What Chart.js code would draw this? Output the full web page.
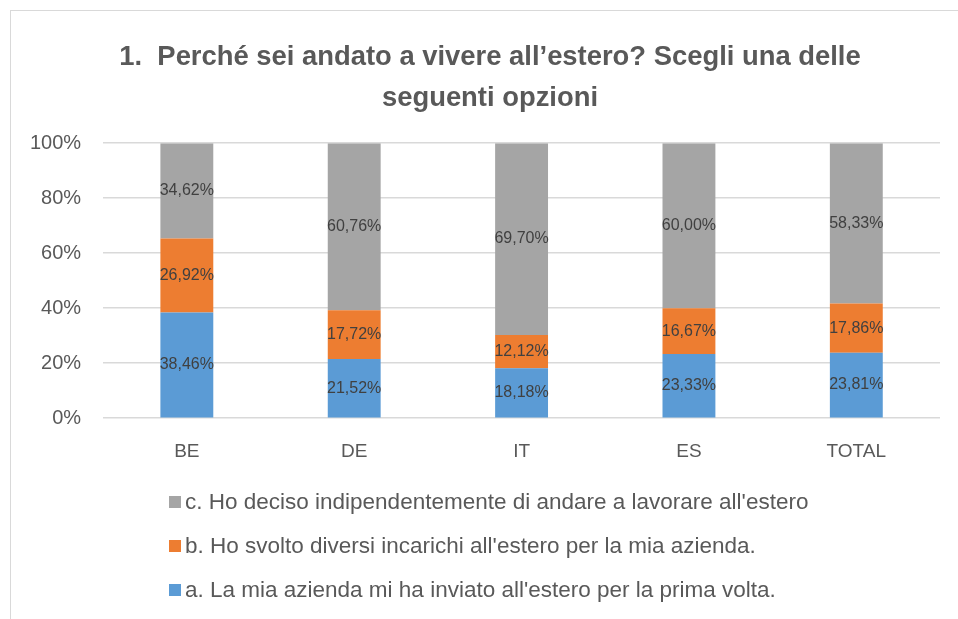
<!DOCTYPE html>
<html>
<head>
<meta charset="utf-8">
<script src="https://cdn.jsdelivr.net/npm/chart.js@4"></script>
<style>
  body { margin: 0; background: #fff; }
  #wrap { position: relative; width: 958px; height: 619px; overflow: hidden; }
  #frame { position: absolute; left: 10px; top: 10px; width: 960px; height: 620px; border: 1px solid #d9d9d9; box-sizing: border-box; }
  #chart { position: absolute; left: 0; top: 0; }
  #legend { position: absolute; left: 169px; top: 480px; font-family: "Liberation Sans", Arial, sans-serif; font-size: 22.5px; color: #595959; }
  .item { display: flex; align-items: center; height: 44px; white-space: nowrap; }
  .box { width: 12px; height: 12px; margin-right: 4px; }
</style>
</head>
<body>
<div id="wrap">
  <div id="frame"></div>
  <canvas id="chart" width="958" height="619"></canvas>
  <div id="legend"></div>
</div>
<script>
const categories = ['BE', 'DE', 'IT', 'ES', 'TOTAL'];
const seriesNames = [
    'a. La mia azienda mi ha inviato all\'estero per la prima volta.',
    'b. Ho svolto diversi incarichi all\'estero per la mia azienda.',
    'c. Ho deciso indipendentemente di andare a lavorare all\'estero'
];
const seriesA = [38.46, 21.52, 18.18, 23.33, 23.81];
const seriesB = [26.92, 17.72, 12.12, 16.67, 17.86];
const seriesC = [34.62, 60.76, 69.70, 60.00, 58.33];
const yTicks = [0, 20, 40, 60, 80, 100];
const colors = ['#5B9BD5', '#ED7D31', '#A5A5A5'];

const font = '"Liberation Sans", Arial, sans-serif';

// draws the value in the middle of each stacked segment
const segmentLabels = {
    id: 'segmentLabels',
    afterDatasetsDraw(chart) {
        const ctx = chart.ctx;
        ctx.save();
        ctx.font = '16px ' + font;
        ctx.fillStyle = '#404040';
        ctx.textAlign = 'center';
        ctx.textBaseline = 'middle';
        chart.data.datasets.forEach((ds, i) => {
            chart.getDatasetMeta(i).data.forEach((bar, j) => {
                const p = bar.getProps(['x', 'y', 'base'], true);
                const txt = ds.data[j].toFixed(2).replace('.', ',') + '%';
                ctx.fillText(txt, p.x, (p.y + p.base) / 2);
            });
        });
        ctx.restore();
    }
};

// title is centred on the frame, not the canvas
const shiftTitle = {
    id: 'shiftTitle',
    afterLayout(chart) {
        chart.titleBlock.left += 16;
        chart.titleBlock.right += 16;
    }
};

const chart = new Chart(document.getElementById('chart'), {
    type: 'bar',
    data: {
        labels: categories,
        datasets: [seriesA, seriesB, seriesC].map((d, i) => ({
            label: seriesNames[i],
            data: d,
            backgroundColor: colors[i],
            categoryPercentage: 1,
            barPercentage: 0.316
        }))
    },
    options: {
        responsive: false,
        animation: false,
        layout: { padding: { left: 8, right: 18, top: 37, bottom: 142 } },
        plugins: {
            legend: { display: false },
            tooltip: { enabled: false },
            title: {
                display: true,
                text: ['1.  Perché sei andato a vivere all’estero? Scegli una delle', 'seguenti opzioni'],
                color: '#595959',
                font: { family: font, size: 27.4, weight: 'bold', lineHeight: 1.5 },
                padding: { top: 0, bottom: 24 }
            }
        },
        scales: {
            x: {
                stacked: true,
                grid: { display: false },
                border: { display: false },
                ticks: { color: '#595959', font: { family: font, size: 19 }, padding: 14 }
            },
            y: {
                stacked: true,
                min: 0,
                max: 100,
                afterBuildTicks: axis => { axis.ticks = yTicks.map(v => ({ value: v })); },
                grid: { color: '#d9d9d9', lineWidth: 1.5, drawTicks: false },
                border: { display: false },
                ticks: {
                    color: '#595959',
                    font: { family: font, size: 20 },
                    padding: 22,
                    callback: v => v + '%'
                }
            }
        }
    },
    plugins: [segmentLabels, shiftTitle]
});

const legend = document.getElementById('legend');
[2, 1, 0].forEach(i => {
    const row = document.createElement('div');
    row.className = 'item';
    row.innerHTML = `<span class="box" style="background:${colors[i]}"></span><span>${seriesNames[i]}</span>`;
    legend.appendChild(row);
});
</script>
</body>
</html>
